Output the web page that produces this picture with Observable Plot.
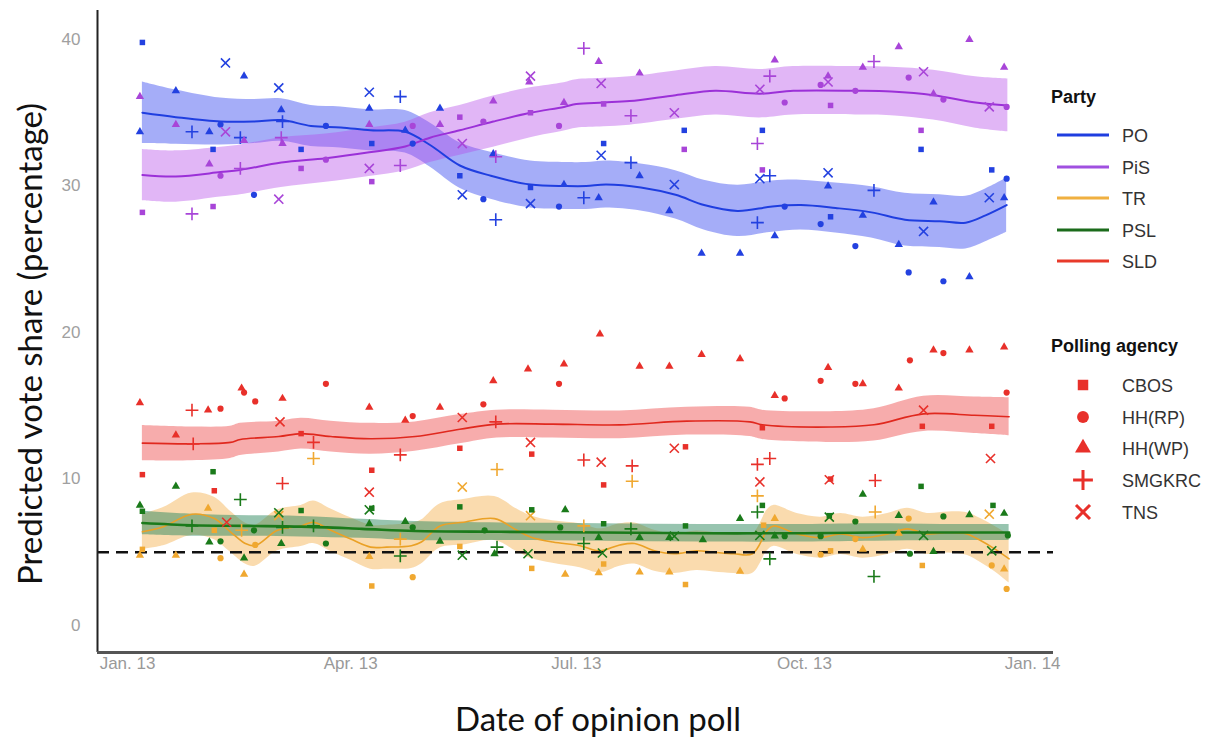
<!DOCTYPE html>
<html><head><meta charset="utf-8">
<script src="https://cdn.jsdelivr.net/npm/d3@7"></script>
<script src="https://cdn.jsdelivr.net/npm/@observablehq/plot@0.6"></script>
<style>
body{margin:0;background:#fff;}
#wrap{position:relative;width:1229px;height:738px;overflow:hidden;}
.ytitle{position:absolute;left:29px;top:344px;transform:translate(-50%,-50%) rotate(-90deg);font-family:Lato,"Open Sans",sans-serif;font-size:33px;white-space:nowrap;color:#111;}
.xtitle{position:absolute;left:598px;top:718px;transform:translate(-50%,-50%);font-family:Lato,"Open Sans",sans-serif;font-size:33px;white-space:nowrap;color:#111;}
.lg{position:absolute;font-family:"Liberation Sans",Arial,sans-serif;color:#333;font-size:18px;white-space:nowrap;}
.lgt{font-weight:bold;color:#111;}
</style></head>
<body><div id="wrap"></div>
<script>
// ---------- data (day = days after 1 Jan 2013) ----------
const parties = ["PO","PiS","TR","PSL","SLD"];
const agencies = ["CBOS","HH(RP)","HH(WP)","SMGKRC","TNS"];
const agencySymbols = ["square","circle","triangle","plus","times"];
const yTicks = [0,10,20,30,40];
const xTickDays = [0,90,181,273,365];
const xTickLabels = ["Jan. 13","Apr. 13","Jul. 13","Oct. 13","Jan. 14"];
const threshold = 5;

// trend: [day, estimate, half-width of band]
const poTrend = [[6,35.0,2.1],[19.5,34.7,1.85],[37.5,34.4,1.6],[51,34.4,1.5],[62,34.5,1.45],[74,34.1,1.4],[86,34.0,1.4],[98,33.8,1.4],[112,33.7,1.45],[122,32.8,1.5],[134,31.4,1.55],[146.5,30.7,1.6],[162.5,30.1,1.6],[177,30.0,1.6],[185,30.0,1.6],[193,30.1,1.6],[207,29.9,1.6],[221,29.4,1.65],[232.5,28.7,1.7],[246,28.3,1.75],[260,28.6,1.75],[271.5,28.7,1.7],[285.5,28.5,1.7],[300,28.2,1.75],[313.5,27.7,1.8],[327.5,27.6,1.8],[338,27.5,1.8],[346,28.0,1.8],[354.5,28.7,1.85]];
const pisTrend = [[6,30.75,1.75],[19.5,30.65,1.75],[37.5,30.95,1.7],[45.5,31.1,1.7],[62,31.6,1.7],[80,31.9,1.65],[97.5,32.3,1.65],[112,32.7,1.65],[122,33.3,1.7],[134,33.8,1.7],[147.5,34.4,1.75],[162.5,35.0,1.7],[176,35.4,1.65],[181,35.6,1.65],[192,35.7,1.65],[202.5,35.8,1.65],[221,36.2,1.65],[237,36.5,1.65],[255,36.3,1.65],[268.5,36.5,1.65],[293.5,36.5,1.65],[308,36.45,1.65],[325,36.2,1.7],[342,35.7,1.75],[355,35.5,1.8]];
const trTrend = [[6,6.4,1.2],[14.5,6.75,1.3],[26,7.6,1.45],[35,7.3,1.45],[41.5,6.4,1.4],[47.5,5.6,1.4],[51.5,5.45,1.4],[60.5,6.5,1.4],[70,6.8,1.4],[75,7.05,1.45],[82,6.5,1.45],[90,5.9,1.45],[98,5.35,1.5],[104.5,5.35,1.5],[114.5,5.45,1.55],[118.5,5.7,1.5],[126,6.8,1.5],[135.5,7.05,1.55],[148,7.3,1.5],[157,6.5,1.45],[162.5,6.05,1.45],[171.5,5.7,1.45],[182.5,5.45,1.5],[190.5,5.1,1.5],[198.5,5.5,1.45],[204.5,5.6,1.4],[212.5,5.1,1.4],[220.5,4.9,1.35],[229.5,5.1,1.35],[236.5,5.0,1.35],[244.5,4.9,1.35],[252,4.9,1.35],[258,6.5,1.4],[260.5,6.8,1.4],[270,6.25,1.4],[279.5,6.0,1.4],[287.5,6.25,1.4],[296.5,6.0,1.4],[306.5,6.25,1.4],[314.5,6.6,1.4],[322.5,6.25,1.4],[331,6.35,1.4],[338.5,6.25,1.45],[344,5.8,1.5],[349.5,5.25,1.55],[355.5,4.55,1.65]];
const pslTrend = [[6,7.0,0.8],[26,6.85,0.75],[49,6.8,0.7],[70,6.75,0.7],[94.5,6.6,0.65],[116,6.45,0.65],[150.5,6.4,0.6],[191,6.35,0.6],[231.5,6.3,0.6],[272.5,6.3,0.6],[301,6.35,0.6],[328,6.35,0.55],[355.5,6.35,0.55]];
const sldTrend = [[6,12.45,1.2],[26,12.4,1.15],[41.5,12.5,1.1],[45.5,12.7,1.1],[61,12.9,1.05],[70,13.1,1.05],[82,12.9,1.05],[98,12.75,1.05],[116,12.9,1.0],[134,13.4,1.0],[149,13.75,0.95],[171.5,13.75,0.95],[198.5,13.7,0.95],[225.5,13.95,0.95],[251,13.9,1.0],[256,13.7,1.0],[283.5,13.55,1.05],[301,13.7,1.1],[321,14.45,1.2],[341.5,14.35,1.25],[355.5,14.25,1.3]];

// polls: [day, agency, value]
const poPolls = [[6,"CBOS",39.8],[5,"HH(WP)",33.7],[19.5,"HH(WP)",36.5],[26,"SMGKRC",33.7],[33,"HH(WP)",33.7],[34.5,"CBOS",32.5],[37.5,"HH(RP)",34.2],[39.5,"TNS",38.4],[45.5,"SMGKRC",33.3],[47,"HH(WP)",37.5],[51,"HH(RP)",29.4],[61,"TNS",36.7],[62,"HH(WP)",35.2],[62.5,"SMGKRC",34.4],[70,"CBOS",32.5],[80,"HH(RP)",34.1],[97.5,"TNS",36.4],[97.5,"HH(WP)",35.3],[98.5,"CBOS",32.9],[110,"SMGKRC",36.1],[112,"HH(WP)",33.8],[115,"HH(RP)",32.9],[126,"HH(WP)",35.3],[134,"CBOS",30.7],[135,"TNS",29.4],[143.5,"HH(RP)",29.1],[147.5,"HH(WP)",32.2],[148.5,"SMGKRC",27.7],[162.5,"CBOS",29.9],[162.5,"TNS",28.8],[174,"HH(RP)",28.6],[176,"HH(WP)",30.1],[184,"SMGKRC",29.2],[190,"HH(WP)",29.2],[191,"TNS",32.1],[192,"CBOS",32.9],[203,"SMGKRC",31.6],[206.5,"HH(WP)",30.7],[218.5,"HH(WP)",28.3],[220.5,"TNS",30.1],[224.5,"CBOS",33.8],[231.5,"HH(WP)",25.4],[247,"HH(WP)",25.4],[254,"SMGKRC",27.5],[255,"TNS",30.5],[256,"CBOS",33.8],[259,"SMGKRC",30.7],[261,"HH(WP)",26.6],[265,"HH(RP)",28.6],[279.5,"HH(RP)",27.4],[282.5,"TNS",30.9],[282.5,"HH(WP)",30.0],[283.5,"CBOS",27.9],[293.5,"HH(RP)",25.9],[296.5,"HH(WP)",28.0],[301,"SMGKRC",29.7],[311,"HH(WP)",26.0],[315,"HH(RP)",24.1],[320,"CBOS",32.5],[321,"TNS",26.9],[325,"HH(WP)",28.9],[329,"HH(RP)",23.5],[339.5,"HH(WP)",23.8],[347.5,"TNS",29.2],[348.5,"CBOS",31.1],[353.5,"HH(WP)",29.2],[354.5,"HH(RP)",30.5]];
const pisPolls = [[5,"HH(WP)",36.1],[6,"CBOS",28.2],[19.5,"HH(WP)",34.2],[26,"SMGKRC",28.1],[33,"HH(WP)",31.5],[34.5,"CBOS",28.6],[37.5,"HH(RP)",30.7],[39.5,"TNS",33.7],[45.5,"SMGKRC",31.2],[47,"HH(WP)",33.1],[61,"TNS",29.1],[62,"SMGKRC",33.3],[62.5,"HH(WP)",32.9],[70,"CBOS",31.2],[80,"HH(RP)",31.8],[97.5,"TNS",31.2],[97.5,"HH(WP)",34.2],[98.5,"CBOS",30.3],[110,"SMGKRC",31.4],[115,"HH(RP)",34.1],[126,"HH(WP)",34.2],[134,"CBOS",34.7],[135,"TNS",32.9],[143.5,"HH(RP)",34.4],[147.5,"HH(WP)",35.8],[148.5,"SMGKRC",32.0],[162.5,"CBOS",35.0],[162.5,"TNS",37.5],[162,"HH(WP)",37.1],[174,"HH(RP)",34.1],[176,"HH(WP)",35.7],[184,"SMGKRC",39.4],[190,"HH(WP)",38.5],[191,"TNS",37.0],[192,"CBOS",35.6],[203,"SMGKRC",34.8],[206.5,"HH(WP)",37.7],[220.5,"TNS",35.0],[224.5,"CBOS",32.5],[254,"SMGKRC",32.9],[255,"TNS",36.6],[256,"CBOS",31.1],[259,"SMGKRC",37.5],[261,"HH(WP)",38.6],[265,"HH(RP)",35.7],[279.5,"HH(RP)",36.9],[282.5,"HH(WP)",37.5],[282.5,"TNS",37.1],[283.5,"CBOS",35.5],[293.5,"HH(RP)",36.5],[296.5,"HH(WP)",38.1],[301,"SMGKRC",38.5],[311,"HH(WP)",39.5],[315,"HH(RP)",37.4],[320,"CBOS",33.8],[321,"TNS",37.8],[325,"HH(WP)",36.3],[329,"HH(RP)",35.9],[339.5,"HH(WP)",40.0],[347.5,"TNS",35.4],[353.5,"HH(WP)",38.1],[354.5,"HH(RP)",35.4]];
const trPolls = [[5,"HH(WP)",4.8],[6,"CBOS",5.2],[19.5,"HH(WP)",4.8],[32.5,"HH(WP)",8.0],[35,"CBOS",6.5],[37.5,"HH(RP)",4.6],[46,"SMGKRC",6.5],[47,"HH(WP)",3.5],[51.5,"HH(RP)",5.5],[61,"TNS",7.5],[75,"SMGKRC",11.4],[97.5,"HH(WP)",4.7],[98.5,"CBOS",2.7],[110,"SMGKRC",5.9],[115,"HH(RP)",3.3],[134,"CBOS",5.4],[135,"TNS",9.45],[149,"SMGKRC",10.65],[163,"CBOS",3.9],[162.5,"TNS",7.5],[176.5,"HH(WP)",3.5],[184,"SMGKRC",6.8],[190,"HH(WP)",3.6],[192,"CBOS",4.2],[203.5,"SMGKRC",9.85],[206.5,"HH(WP)",3.65],[218.5,"HH(WP)",3.65],[225,"CBOS",2.8],[247,"HH(WP)",3.7],[254,"SMGKRC",8.85],[256.5,"CBOS",6.85],[261,"HH(WP)",7.3],[279.5,"HH(RP)",4.85],[283.5,"CBOS",5.1],[293.5,"HH(RP)",5.9],[296.5,"HH(WP)",5.2],[301.5,"SMGKRC",7.75],[311,"HH(WP)",6.3],[315,"HH(RP)",7.3],[320.5,"CBOS",4.1],[347.5,"TNS",7.6],[348.5,"HH(RP)",4.1],[353.5,"HH(WP)",3.85],[354.5,"HH(RP)",2.5]];
const pslPolls = [[5,"HH(WP)",8.2],[6,"CBOS",7.8],[19.5,"HH(WP)",9.5],[26,"SMGKRC",6.8],[33,"HH(WP)",5.7],[34.5,"CBOS",10.5],[37.5,"HH(RP)",5.75],[45.5,"SMGKRC",8.6],[47,"HH(WP)",4.6],[51,"HH(RP)",6.5],[61,"TNS",7.7],[62,"HH(WP)",5.6],[62.5,"SMGKRC",6.7],[70,"CBOS",7.85],[75,"SMGKRC",6.8],[80,"HH(RP)",5.6],[97.5,"TNS",7.9],[98.5,"CBOS",8.0],[97.5,"HH(WP)",6.95],[110,"SMGKRC",4.75],[112,"HH(WP)",7.1],[115,"HH(RP)",6.7],[126,"HH(WP)",5.75],[134,"CBOS",8.1],[135,"TNS",4.8],[144,"HH(RP)",6.5],[148,"HH(WP)",4.9],[149,"SMGKRC",5.35],[163,"CBOS",7.9],[161.5,"TNS",4.9],[176.5,"HH(WP)",7.9],[174.5,"HH(RP)",6.7],[184,"SMGKRC",5.6],[190,"HH(WP)",6.0],[192,"CBOS",6.95],[191.5,"TNS",4.95],[203,"SMGKRC",6.6],[206.5,"HH(WP)",6.0],[218.5,"HH(WP)",6.0],[220.5,"TNS",6.1],[225,"CBOS",6.8],[232,"HH(WP)",5.85],[247,"HH(WP)",7.3],[254,"SMGKRC",7.75],[256,"CBOS",8.2],[259,"SMGKRC",4.55],[255,"TNS",6.15],[261,"HH(WP)",6.1],[265,"HH(RP)",6.1],[279.5,"HH(RP)",6.1],[283,"CBOS",7.5],[283,"TNS",7.4],[296.5,"HH(WP)",8.95],[293.5,"HH(RP)",7.1],[301,"SMGKRC",3.35],[311,"HH(WP)",7.5],[315.5,"HH(RP)",4.9],[320,"CBOS",9.5],[321,"TNS",6.15],[325,"HH(WP)",5.05],[329,"HH(RP)",7.45],[339.5,"HH(WP)",7.55],[348.5,"TNS",5.1],[349,"CBOS",8.2],[353.5,"HH(WP)",7.65],[355,"HH(RP)",6.15]];
const sldPolls = [[5,"HH(WP)",15.2],[6,"CBOS",10.3],[19.5,"HH(WP)",13.0],[26,"SMGKRC",14.7],[26.5,"SMGKRC",12.4],[32.5,"HH(WP)",14.7],[35,"CBOS",9.2],[37.5,"HH(RP)",14.8],[40,"TNS",7.05],[46,"HH(WP)",16.2],[47,"HH(RP)",15.9],[51.5,"HH(RP)",15.3],[61.5,"TNS",13.9],[62.5,"HH(WP)",15.5],[62.5,"SMGKRC",9.7],[70,"CBOS",13.1],[75,"SMGKRC",12.5],[80,"HH(RP)",16.5],[97.5,"HH(WP)",14.9],[97.5,"TNS",9.1],[98.5,"CBOS",10.6],[110,"SMGKRC",11.65],[112,"HH(WP)",14.0],[115,"HH(RP)",14.3],[126,"HH(WP)",14.9],[134,"CBOS",12.1],[135,"TNS",14.2],[143.5,"HH(RP)",15.1],[147.5,"HH(WP)",16.7],[148.5,"SMGKRC",13.9],[161.5,"HH(WP)",17.5],[162.5,"TNS",12.5],[163,"CBOS",11.7],[174,"HH(RP)",16.5],[176,"HH(WP)",17.85],[184,"SMGKRC",11.3],[190.5,"HH(WP)",19.9],[191,"TNS",11.15],[192,"CBOS",9.6],[203.5,"SMGKRC",10.9],[206.5,"HH(WP)",17.7],[218.5,"HH(WP)",17.7],[220.5,"TNS",12.1],[225,"CBOS",12.2],[231.5,"HH(WP)",18.5],[247,"HH(WP)",18.2],[254,"SMGKRC",11.0],[255,"TNS",9.8],[256,"CBOS",13.5],[259,"SMGKRC",11.4],[261,"HH(WP)",15.7],[265,"HH(RP)",15.5],[279.5,"HH(RP)",16.7],[282.5,"HH(WP)",17.6],[283,"TNS",9.95],[283.5,"CBOS",10.0],[293.5,"HH(RP)",16.5],[296.5,"HH(WP)",16.5],[301.5,"SMGKRC",9.9],[311,"HH(WP)",16.2],[315.5,"HH(RP)",18.1],[320.5,"CBOS",13.6],[321,"TNS",14.7],[325,"HH(WP)",18.8],[329,"HH(RP)",18.6],[339.5,"HH(WP)",18.8],[348,"TNS",11.4],[348.5,"CBOS",13.6],[353.5,"HH(WP)",19.0],[354.5,"HH(RP)",15.9]];

// ---------- styles ----------
const lineColor  = {PO:"#1f3ee0", PiS:"#9b30d8", TR:"#eaa126", PSL:"#1b7a1b", SLD:"#e0281e"};
const pointColor = {PO:"#2341e0", PiS:"#a845d8", TR:"#f0a830", PSL:"#1a7a1a", SLD:"#e8302a"};
const bandColor  = {PO:"#3b4cf0", PiS:"#b548e8", TR:"#f2a535", PSL:"#2f8a60", SLD:"#ec3a3a"};
const bandOpacity= {PO:0.46, PiS:0.40, TR:0.40, PSL:0.50, SLD:0.42};
const legendLine = {PO:"#1f3ee0", PiS:"#a050e0", TR:"#f0b040", PSL:"#1b6b1b", SLD:"#e83a2a"};

const trends = {PO:poTrend, PiS:pisTrend, TR:trTrend, PSL:pslTrend, SLD:sldTrend};
const polls  = {PO:poPolls, PiS:pisPolls, TR:trPolls, PSL:pslPolls, SLD:sldPolls};

const base = Date.UTC(2013,0,1);
const toDate = d => new Date(base + d*864e5);
const xDomain = [toDate(-12.1), toDate(373.4)];
const yDomain = [-1.84, 41.98];
const filled = new Set(["CBOS","HH(RP)","HH(WP)"]);

const drawOrder = ["PO","PiS","SLD","TR","PSL"];
const marks = [];
for (const p of drawOrder) {
  marks.push(Plot.areaY(trends[p], {x:d=>toDate(d[0]), y1:d=>d[1]-d[2], y2:d=>d[1]+d[2], fill:bandColor[p], fillOpacity:bandOpacity[p], curve:"catmull-rom"}));
}
for (const p of drawOrder) {
  marks.push(Plot.lineY(trends[p], {x:d=>toDate(d[0]), y:d=>d[1], stroke:lineColor[p], strokeWidth: p==="PSL"?2.6:(p==="PO"||p==="PiS"?2:1.6), curve:"catmull-rom"}));
}
marks.push(Plot.ruleY([threshold], {stroke:"#111", strokeWidth:2.4, strokeDasharray:"12,7"}));
for (const p of drawOrder) {
  marks.push(Plot.dot(polls[p].filter(d=>filled.has(d[1])), {x:d=>toDate(d[0]), y:d=>d[2], symbol:d=>d[1], fill:pointColor[p], r:3.1}));
  marks.push(Plot.dot(polls[p].filter(d=>!filled.has(d[1])), {x:d=>toDate(d[0]), y:d=>d[2], symbol:d=>d[1], stroke:pointColor[p], fill:"none", strokeWidth:1.6, r:4.2}));
}
marks.push(Plot.ruleX([xDomain[0]], {stroke:"#222", strokeWidth:2}));
marks.push(Plot.ruleY([yDomain[0]], {stroke:"#555", strokeWidth:3}));
marks.push(Plot.axisY({ticks:yTicks, tickSize:0, tickPadding:17, label:null, fontSize:17, fill:"#a0a0a0"}));
marks.push(Plot.axisX({ticks:xTickDays.map(toDate), tickFormat:(d,i)=>xTickLabels[i], tickSize:0, tickPadding:4, label:null, fontSize:17, fill:"#999"}));

const chart = Plot.plot({
  width:1229, height:738,
  marginLeft:97, marginRight:176, marginTop:10, marginBottom:86,
  x:{type:"utc", domain:xDomain},
  y:{domain:yDomain},
  symbol:{domain:agencies, range:agencySymbols},
  style:{fontFamily:"'Liberation Sans',Arial,sans-serif", background:"#fff"},
  marks
});
const wrap = document.getElementById("wrap");
wrap.appendChild(chart);

// titles
const yt = document.createElement("div"); yt.className="ytitle"; yt.textContent="Predicted vote share (percentage)"; wrap.appendChild(yt);
const xt = document.createElement("div"); xt.className="xtitle"; xt.textContent="Date of opinion poll"; wrap.appendChild(xt);

// legend
function addText(txt, left, top, cls){ const e=document.createElement("div"); e.className="lg "+(cls||""); e.textContent=txt; e.style.left=left+"px"; e.style.top=top+"px"; e.style.transform="translateY(-50%)"; wrap.appendChild(e); return e; }
function addSvg(left, top, w, h, inner){ const s=document.createElementNS("http://www.w3.org/2000/svg","svg"); s.setAttribute("width",w); s.setAttribute("height",h); s.style.position="absolute"; s.style.left=left+"px"; s.style.top=top+"px"; s.innerHTML=inner; wrap.appendChild(s); }
addText("Party", 1051, 97, "lgt");
parties.forEach((p,i)=>{
  const cy = 135 + i*31.5;
  addSvg(1057, cy-3, 52, 6, `<line x1="0" x2="52" y1="3" y2="3" stroke="${legendLine[p]}" stroke-width="3.2"/>`);
  addText(p, 1122, cy+1);
});
addText("Polling agency", 1051, 346, "lgt");
const symMap = {square:d3.symbolSquare, circle:d3.symbolCircle, triangle:d3.symbolTriangle, plus:d3.symbolPlus, times:d3.symbolTimes};
agencies.forEach((a,i)=>{
  const cy = 385 + i*31.7;
  const t = agencySymbols[i];
  const isFill = t==="square"||t==="circle"||t==="triangle";
  const path = d3.symbol(symMap[t], isFill?110:130)();
  addSvg(1073, cy-10, 20, 20, `<path transform="translate(10,10)" d="${path}" ${isFill?'fill="#e8302a"':'fill="none" stroke="#e8302a" stroke-width="3"'}/>`);
  addText(a, 1122, cy+1);
});
</script></body></html>
